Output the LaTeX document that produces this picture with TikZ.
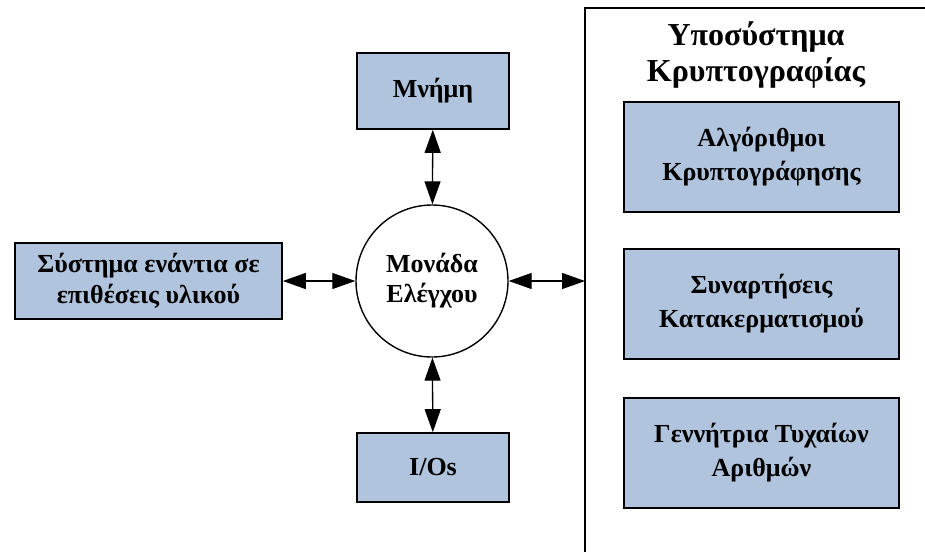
\documentclass[tikz,border=0pt]{standalone}
\usepackage{fontspec}
\setmainfont{Liberation Serif}
\usetikzlibrary{arrows.meta}
\definecolor{boxblue}{RGB}{176,196,222}

\tikzset{
    blk/.style={draw, line width=1.6pt, fill=boxblue, align=center, inner sep=0pt,
        font=\bfseries\fontsize{26}{31}\selectfont},
    bigblk/.style={blk, minimum width=275pt, minimum height=110pt,
        font=\bfseries\fontsize{26}{34}\selectfont},
    link/.style={line width=1.3pt,
        {Triangle[length=23pt,width=16pt]}-{Triangle[length=23pt,width=16pt]}}
}

\begin{document}
\begin{tikzpicture}[x=1pt,y=-1pt]
    \useasboundingbox (0,0) rectangle (925,552);

    % control unit and its neighbours
    \node[draw, circle, line width=1.4pt, minimum size=152pt, inner sep=0pt, align=center,
        font=\bfseries\fontsize{26}{30}\selectfont] (ctrl) at (432,281) {Μονάδα\\Ελέγχου};
    \node[blk, minimum width=152pt, minimum height=76pt] (mem) at (433,91) {Μνήμη};
    \node[blk, minimum width=152pt, minimum height=69pt] (ios) at (433,467.5) {I/Os};
    \node[blk, minimum width=267pt, minimum height=76pt] (hw) at (148.5,281)
        {Σύστημα ενάντια σε\\επιθέσεις υλικού};

    % crypto subsystem
    \draw[line width=1.6pt] (925,8) -- (585,8) -- (585,552);
    \coordinate (sub) at (585,281);
    \node[align=center, font=\bfseries\fontsize{32}{36}\selectfont] (title) at (756,55)
        {Υποσύστημα\\Κρυπτογραφίας};
    \node[bigblk] (alg) at (761.5,157) {Αλγόριθμοι\\Κρυπτογράφησης};
    \node[bigblk] (hash) at (761.5,304) {Συναρτήσεις\\Κατακερματισμού};
    \node[bigblk] (rng) at (761.5,453) {Γεννήτρια Τυχαίων\\Αριθμών};

    \draw[link] (mem) -- (ctrl);
    \draw[link] (ctrl) -- (ios);
    \draw[link] (hw) -- (ctrl);
    \draw[link] (ctrl) -- (sub);

\end{tikzpicture}
\end{document}
